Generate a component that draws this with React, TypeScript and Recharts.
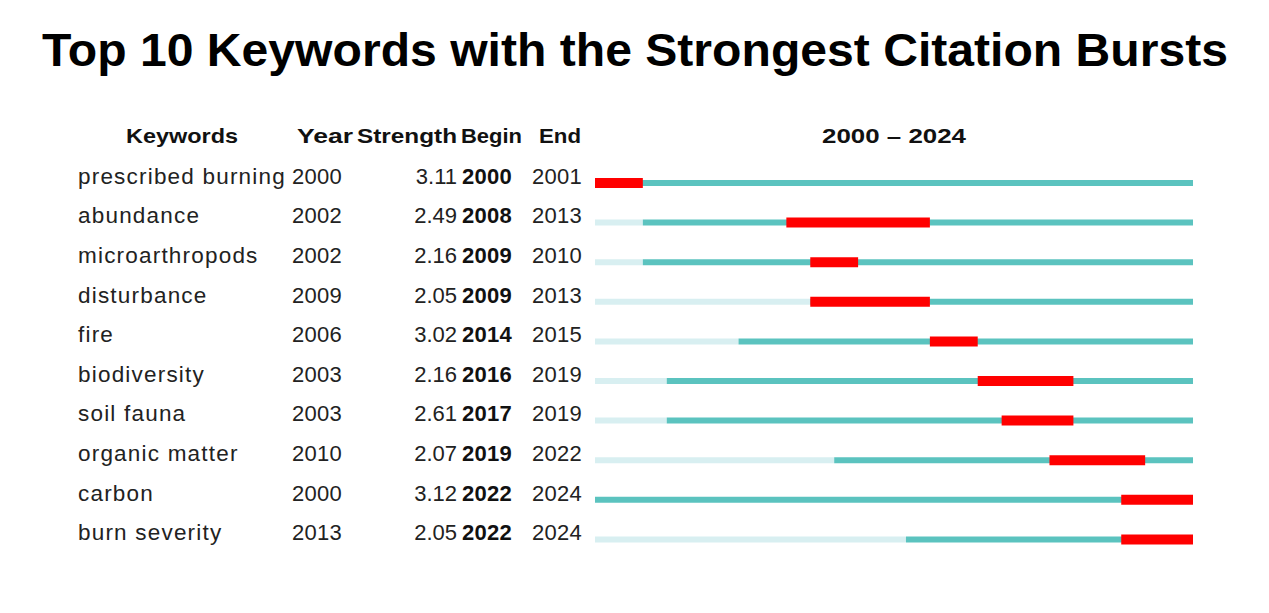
import React from 'react';
import { BarChart, Bar, XAxis, YAxis } from 'recharts';

const keywords = [
  'prescribed burning',
  'abundance',
  'microarthropods',
  'disturbance',
  'fire',
  'biodiversity',
  'soil fauna',
  'organic matter',
  'carbon',
  'burn severity',
];
const years = [2000, 2002, 2002, 2009, 2006, 2003, 2003, 2010, 2000, 2013];
const strengths = [3.11, 2.49, 2.16, 2.05, 3.02, 2.16, 2.61, 2.07, 3.12, 2.05];
const begins = [2000, 2008, 2009, 2009, 2014, 2016, 2017, 2019, 2022, 2022];
const ends = [2001, 2013, 2010, 2013, 2015, 2019, 2019, 2022, 2024, 2024];
const firstYear = 2000;
const lastYear = 2024;

const data = keywords.map((k, i) => ({
  keyword: k,
  year: years[i],
  strength: strengths[i],
  begin: begins[i],
  end: ends[i],
}));

const FONT = "'Liberation Sans', Arial, Helvetica, sans-serif";

const RowTick: React.FC<any> = ({ y, index }) => {
  const d = data[index];
  if (!d) return null;
  const by = y + 1;
  const common = { fontFamily: FONT, fontSize: 22, fill: '#222' };
  return (
    <g>
      <text x={70} y={by} {...common} fontSize={22.5} letterSpacing={1.2}>{d.keyword}</text>
      <text x={284} y={by} {...common} letterSpacing={0.3}>{d.year}</text>
      <text x={449} y={by} {...common} textAnchor="end">{d.strength.toFixed(2)}</text>
      <text x={454} y={by} {...common} fontWeight="bold" fill="#111" letterSpacing={0.3}>{d.begin}</text>
      <text x={524} y={by} {...common} letterSpacing={0.3}>{d.end}</text>
    </g>
  );
};

const App: React.FC = () => {
  const W = 1253;
  const H = 597;
  return (
    <div style={{ position: 'relative', width: W, height: H, background: '#fff' }}>
      <BarChart
        width={W}
        height={H}
        data={data}
        layout="vertical"
        margin={{ top: 155, right: 68, left: 586, bottom: 46 }}
      >
        <XAxis type="number" domain={[firstYear, lastYear + 1]} hide allowDataOverflow />
        <YAxis
          yAxisId="light"
          type="category"
          dataKey="keyword"
          width={1}
          axisLine={false}
          tickLine={false}
          tick={<RowTick />}
          interval={0}
        />
        <YAxis yAxisId="teal" type="category" dataKey="keyword" hide />
        <YAxis yAxisId="burst" type="category" dataKey="keyword" hide />
        <Bar
          yAxisId="light"
          dataKey={(d: any) => [firstYear, d.year]}
          fill="#D8EFF1"
          barSize={6}
          isAnimationActive={false}
        />
        <Bar
          yAxisId="teal"
          dataKey={(d: any) => [d.year, lastYear + 1]}
          fill="#5BC3BF"
          barSize={6}
          isAnimationActive={false}
        />
        <Bar
          yAxisId="burst"
          dataKey={(d: any) => [d.begin, d.end + 1]}
          fill="#FF0000"
          barSize={10}
          isAnimationActive={false}
        />
      </BarChart>
      <svg
        width={W}
        height={H}
        style={{ position: 'absolute', left: 0, top: 0, pointerEvents: 'none' }}
      >
        <text
          x={34}
          y={58}
          fontFamily={FONT}
          fontWeight="bold"
          fontSize={47}
          textLength={1186}
          lengthAdjust="spacingAndGlyphs"
          fill="#000"
        >
          Top 10 Keywords with the Strongest Citation Bursts
        </text>
        <g fontFamily={FONT} fontWeight="bold" fontSize={21} fill="#111">
          <text x={118} y={135} textLength={112} lengthAdjust="spacingAndGlyphs">Keywords</text>
          <text x={289} y={135} textLength={56} lengthAdjust="spacingAndGlyphs">Year</text>
          <text x={349} y={135} textLength={100} lengthAdjust="spacingAndGlyphs">Strength</text>
          <text x={453} y={135} textLength={61} lengthAdjust="spacingAndGlyphs">Begin</text>
          <text x={531} y={135} textLength={42} lengthAdjust="spacingAndGlyphs">End</text>
          <text x={814} y={135} textLength={144} lengthAdjust="spacingAndGlyphs">{`${firstYear} – ${lastYear}`}</text>
        </g>
      </svg>
    </div>
  );
};

export default App;
